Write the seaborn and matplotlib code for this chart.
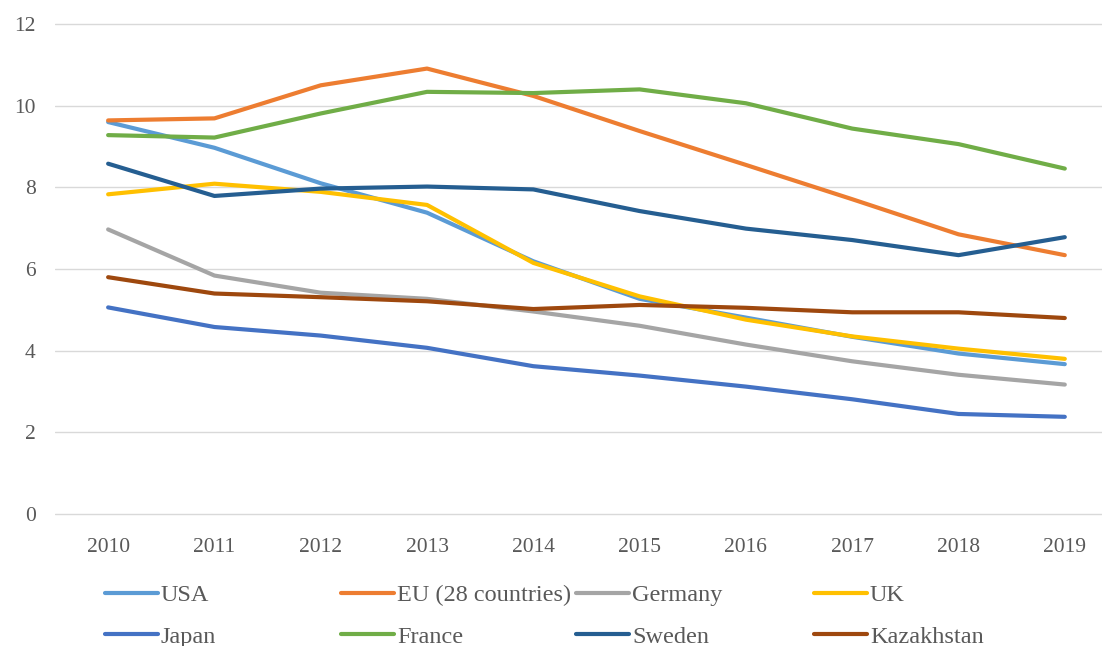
import pandas as pd
import numpy as np
import matplotlib
matplotlib.use("Agg")
import matplotlib.pyplot as plt
import seaborn as sns
from matplotlib.lines import Line2D

years = [2010, 2011, 2012, 2013, 2014, 2015, 2016, 2017, 2018, 2019]

usa = [9.60, 8.97, 8.10, 7.38, 6.19, 5.27, 4.81, 4.34, 3.93, 3.67]
eu = [9.64, 9.69, 10.50, 10.91, 10.24, 9.38, 8.55, 7.71, 6.85, 6.34]
germany = [6.97, 5.84, 5.42, 5.27, 4.96, 4.61, 4.15, 3.74, 3.41, 3.17]
uk = [7.83, 8.09, 7.89, 7.57, 6.15, 5.33, 4.76, 4.35, 4.05, 3.80]
japan = [5.06, 4.58, 4.37, 4.07, 3.62, 3.39, 3.12, 2.81, 2.45, 2.38]
france = [9.28, 9.22, 9.81, 10.34, 10.31, 10.40, 10.06, 9.44, 9.06, 8.46]
sweden = [8.58, 7.79, 7.97, 8.02, 7.95, 7.42, 6.99, 6.71, 6.34, 6.78]
kazakhstan = [5.80, 5.40, 5.31, 5.21, 5.02, 5.12, 5.05, 4.94, 4.94, 4.80]

names = ["USA", "EU (28 countries)", "Germany", "UK",
         "Japan", "France", "Sweden", "Kazakhstan"]
series = [usa, eu, germany, uk, japan, france, sweden, kazakhstan]
colors = ["#5B9BD5", "#ED7D31", "#A5A5A5", "#FFC000",
          "#4472C4", "#70AD47", "#255E91", "#9E480E"]

df = pd.DataFrame({
    "year": np.tile(years, len(names)),
    "value": np.concatenate(series),
    "country": np.repeat(names, len(years)),
})

sns.set_style("white")
plt.rcParams["font.family"] = ["Liberation Serif", "DejaVu Serif"]

fig = plt.figure(figsize=(11.02, 6.46), dpi=100)
ax = fig.add_axes([0.0499, 0.2012, 0.9501, 0.7647])

sns.lineplot(data=df, x="year", y="value", hue="country", hue_order=names,
             palette=dict(zip(names, colors)), linewidth=3.0, ax=ax,
             legend=False, solid_capstyle="round", solid_joinstyle="round")

ax.set_xlim(2009.50, 2019.35)
ax.set_ylim(-0.05, 12.05)
ax.set_xticks(years)
ax.set_xticklabels([str(y) for y in years])
ax.set_yticks([0, 2, 4, 6, 8, 10, 12])
ax.set_xlabel("")
ax.set_ylabel("")
ax.yaxis.grid(True, color="#D9D9D9", linewidth=1.0)
ax.xaxis.grid(False)
ax.set_axisbelow(True)
for s in ax.spines.values():
    s.set_visible(False)
ax.tick_params(axis="both", length=0, labelsize=15.5, colors="#595959")
ax.tick_params(axis="x", pad=16)
ax.tick_params(axis="y", pad=14)

# legend: 4 equal-width columns, 2 rows
col_x = [105, 341, 576, 814]
for c in range(4):
    idx = [c, c + 4]
    handles = [Line2D([], [], color=colors[i], linewidth=3.0,
                      solid_capstyle="round") for i in idx]
    fig.legend(handles, [names[i] for i in idx], loc="upper left",
               bbox_to_anchor=(col_x[c] / 1102, 1 - 584 / 646),
               frameon=False, fontsize=17.5, handlelength=2.2,
               handletextpad=0.1, borderpad=0, borderaxespad=0,
               labelspacing=0.82, labelcolor="#595959")

fig.savefig("out.png", dpi=100)
